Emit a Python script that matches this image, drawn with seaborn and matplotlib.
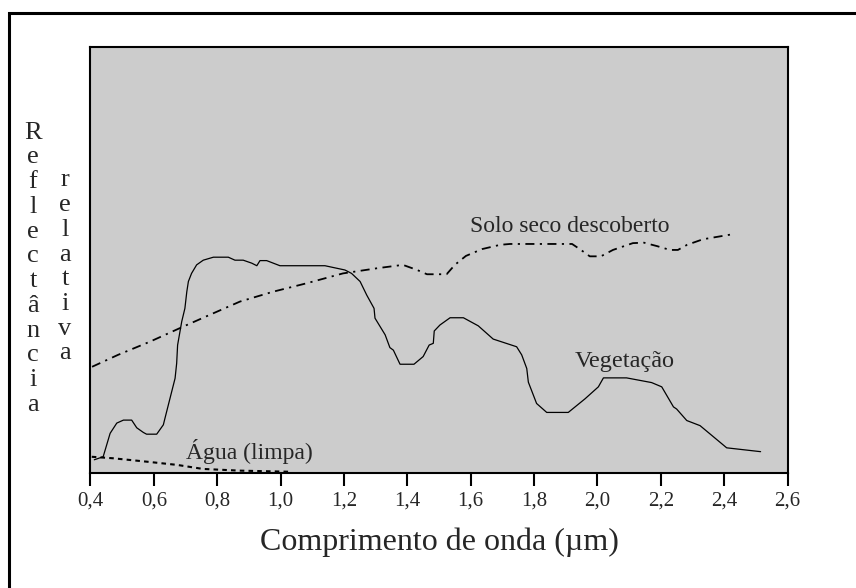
import matplotlib
matplotlib.use("Agg")
import matplotlib.pyplot as plt
import numpy as np
import pandas as pd
import seaborn as sns
from matplotlib.patches import Rectangle

# wavelength (um) / relative reflectance (0-100, arbitrary units)
veg_wl = [0.412, 0.440, 0.448, 0.462, 0.483, 0.504, 0.530, 0.546, 0.567, 0.577,
          0.609, 0.630, 0.635, 0.651, 0.667, 0.672, 0.675, 0.688, 0.698, 0.704,
          0.709, 0.719, 0.735, 0.756, 0.788, 0.835, 0.856, 0.882, 0.909, 0.925,
          0.935, 0.956, 0.998, 1.140, 1.203, 1.224, 1.251, 1.272, 1.295, 1.298,
          1.330, 1.345, 1.356, 1.377, 1.421, 1.450, 1.469, 1.482, 1.485, 1.503,
          1.535, 1.577, 1.624, 1.671, 1.745, 1.761, 1.777, 1.782, 1.808, 1.840,
          1.908, 1.961, 2.003, 2.019, 2.092, 2.171, 2.203, 2.240, 2.250, 2.282,
          2.324, 2.408, 2.515]
veg_r = [3.1, 3.8, 5.8, 9.3, 11.7, 12.4, 12.4, 10.6, 9.5, 9.1,
         9.1, 11.3, 12.8, 17.5, 22.2, 25.7, 30.0, 35.5, 38.6, 42.5,
         44.9, 46.8, 48.8, 49.9, 50.6, 50.6, 49.9, 49.9, 49.2, 48.6,
         49.8, 49.8, 48.6, 48.6, 47.6, 46.8, 44.9, 41.7, 38.6, 36.3,
         32.4, 29.4, 28.8, 25.5, 25.5, 27.3, 30.0, 30.4, 33.3, 34.7,
         36.4, 36.4, 34.5, 31.4, 29.6, 27.7, 24.5, 21.3, 16.3, 14.2,
         14.2, 17.4, 20.2, 22.3, 22.3, 21.2, 20.2, 15.5, 15.0, 12.3,
         11.1, 5.9, 5.0]

soil_wl = [0.405, 0.487, 0.588, 0.692, 0.777, 0.872, 0.976, 1.083, 1.197, 1.304,
           1.386, 1.431, 1.462, 1.524, 1.550, 1.585, 1.636, 1.693, 1.724, 1.920,
           1.948, 1.976, 2.011, 2.049, 2.112, 2.147, 2.188, 2.229, 2.254, 2.283,
           2.333, 2.428]
soil_r = [24.9, 27.7, 30.8, 34.3, 37.1, 40.2, 42.5, 44.5, 46.8, 48.0,
          48.8, 47.6, 46.6, 46.6, 48.8, 50.9, 52.5, 53.5, 53.7, 53.7,
          52.3, 50.8, 50.8, 52.3, 53.9, 54.0, 53.2, 52.3, 52.3, 53.5,
          54.8, 56.0]

water_wl = [0.404, 0.471, 0.578, 0.673, 0.755, 0.872, 1.024]
water_r = [3.8, 3.45, 2.65, 1.9, 0.95, 0.55, 0.3]

tick_vals = [0.4, 0.6, 0.8, 1.0, 1.2, 1.4, 1.6, 1.8, 2.0, 2.2, 2.4, 2.6]
tick_labels = ["0,4", "0,6", "0,8", "1,0", "1,2", "1,4", "1,6", "1,8",
               "2,0", "2,2", "2,4", "2,6"]

sns.set_theme(style="white")
plt.rcParams['font.family'] = ['Liberation Serif', 'DejaVu Serif']

fig = plt.figure(figsize=(8.56, 5.88), dpi=100)
ax = fig.add_axes([0.1057, 0.1956, 0.8143, 0.7253])
ax.set_facecolor('#cccccc')

veg = pd.DataFrame({"wl": veg_wl, "r": veg_r})
soil = pd.DataFrame({"wl": soil_wl, "r": soil_r})
water = pd.DataFrame({"wl": water_wl, "r": water_r})

sns.lineplot(data=veg, x="wl", y="r", ax=ax, color='black', linewidth=0.9)
sns.lineplot(data=soil, x="wl", y="r", ax=ax, color='black', linewidth=1.3,
             linestyle=(0, (5, 3, 1.2, 3)))
sns.lineplot(data=water, x="wl", y="r", ax=ax, color='black', linewidth=1.5,
             linestyle=(0, (2.2, 2)))

ax.text(1.598, 56.5, "Solo seco descoberto", fontsize=17, ha='left', va='baseline')
ax.text(1.929, 24.9, "Vegetação", fontsize=17.5, ha='left', va='baseline')
ax.text(0.701, 3.2, "Água (limpa)", fontsize=17, ha='left', va='baseline')

ax.set_xlim(0.4, 2.6)
ax.set_ylim(0, 100)
ax.set_xticks(tick_vals)
ax.set_xticklabels(tick_labels, fontsize=15)
ax.set_yticks([])
ax.tick_params(axis='x', direction='out', length=9.5, width=1.5, pad=4,
               bottom=True, color='black')
for s in ax.spines.values():
    s.set_visible(True)
    s.set_color('black')
    s.set_linewidth(1.5)

ax.set_xlabel("Comprimento de onda (µm)", fontsize=23, labelpad=12)
ax.set_ylabel("")

fig.text(33 / 856, 0.543, "\n".join("Reflectância"), fontsize=19,
         ha='center', va='center', linespacing=1.16)
fig.text(65 / 856, 0.546, "\n".join("relativa"), fontsize=19,
         ha='center', va='center', linespacing=1.16)

# outer frame (only left and top edges fall inside the picture)
fig.patches.append(Rectangle((8.5 / 856, -0.5), 1.5, 1.5 - 12.7 / 588,
                             transform=fig.transFigure, fill=False,
                             edgecolor='black', linewidth=2.2, clip_on=False))

fig.savefig("out.png", dpi=100)
